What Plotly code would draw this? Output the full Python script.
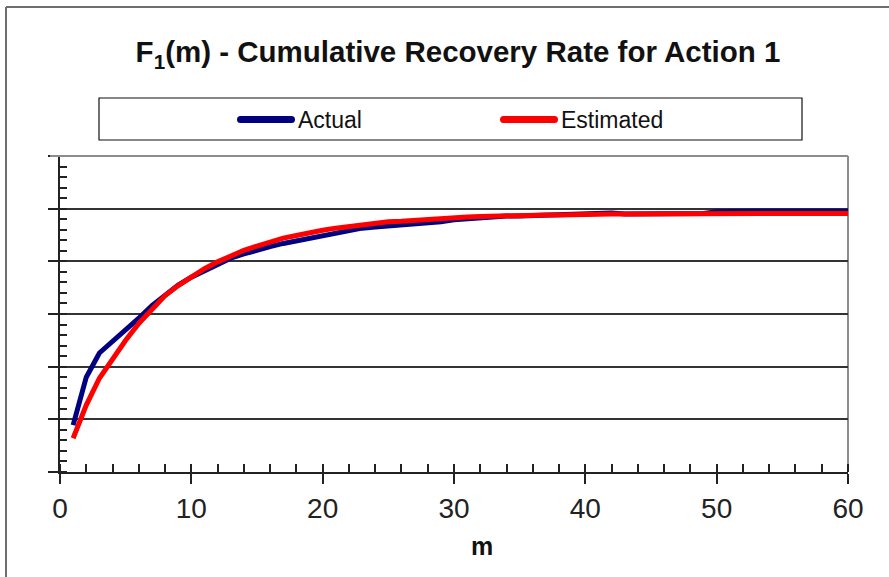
import plotly.graph_objects as go

m_values = list(range(1, 61))

actual = [
    0.089, 0.180, 0.226, 0.247, 0.269, 0.292, 0.316, 0.336, 0.355, 0.370,
    0.382, 0.395, 0.406, 0.414, 0.422, 0.428, 0.434, 0.439, 0.444, 0.448,
    0.452, 0.459, 0.463, 0.465, 0.467, 0.468, 0.469, 0.472, 0.475, 0.479,
    0.481, 0.482, 0.484, 0.486, 0.486, 0.487, 0.488, 0.488, 0.489, 0.490,
    0.492, 0.492, 0.490, 0.490, 0.490, 0.490, 0.490, 0.491, 0.491, 0.494,
    0.495, 0.495, 0.495, 0.495, 0.495, 0.495, 0.495, 0.495, 0.495, 0.495,
]

estimated = [
    0.064, 0.127, 0.178, 0.216, 0.250, 0.282, 0.310, 0.335, 0.354, 0.371,
    0.386, 0.399, 0.411, 0.421, 0.429, 0.437, 0.444, 0.449, 0.455, 0.459,
    0.463, 0.466, 0.470, 0.472, 0.475, 0.476, 0.478, 0.480, 0.481, 0.483,
    0.484, 0.485, 0.486, 0.486, 0.487, 0.487, 0.488, 0.488, 0.489, 0.489,
    0.489, 0.490, 0.490, 0.490, 0.490, 0.490, 0.491, 0.491, 0.491, 0.491,
    0.491, 0.491, 0.491, 0.491, 0.491, 0.491, 0.491, 0.491, 0.491, 0.491,
]

series_names = ["Actual", "Estimated"]
series_colors = ["#000080", "#FF0000"]
x_tick_values = [0, 10, 20, 30, 40, 50, 60]
title_text = "<b>F<sub>1</sub>(m) - Cumulative Recovery Rate for Action 1</b>"
x_title = "<b>m</b>"

FONT = "Liberation Sans, Arial, sans-serif"

fig = go.Figure()
for name, ys, col in zip(series_names, [actual, estimated], series_colors):
    fig.add_trace(go.Scatter(x=m_values, y=ys, mode="lines", name=name,
                             line=dict(color=col, width=5), showlegend=False,
                             cliponaxis=False))

# plot area: x 60..848 px, y 156..472 px
W, H = 788.0, 316.0
def px(x):
    return (x - 60) / W
def py(y):
    return (472 - y) / H

shapes = []
# outer frame (left and top)
shapes.append(dict(type="line", xref="paper", yref="paper", x0=px(6), x1=px(6),
                   y0=py(7), y1=py(600), line=dict(color="#6e6e6e", width=2)))
shapes.append(dict(type="line", xref="paper", yref="paper", x0=px(6), x1=px(900),
                   y0=py(7), y1=py(7), line=dict(color="#6e6e6e", width=2)))
# plot border top & right (gray)
shapes.append(dict(type="line", xref="paper", yref="paper", x0=px(50), x1=1,
                   y0=1, y1=1, line=dict(color="#8c8c8c", width=2), layer="above"))
shapes.append(dict(type="line", xref="paper", yref="paper", x0=1, x1=1,
                   y0=0, y1=1, line=dict(color="#8c8c8c", width=2), layer="below"))
# legend box
shapes.append(dict(type="rect", xref="paper", yref="paper", x0=px(99), x1=px(802),
                   y0=py(140), y1=py(98), line=dict(color="#111111", width=1.2),
                   fillcolor="white"))
annotations = []
leg_x = [237, 500]
for name, col, lx in zip(series_names, series_colors, leg_x):
    shapes.append(dict(type="line", xref="paper", yref="paper", x0=px(lx + 3), x1=px(lx + 55),
                       y0=py(119.5), y1=py(119.5), line=dict(color=col, width=7)))
    shapes.append(dict(type="circle", xref="paper", yref="paper",
                       x0=px(lx), x1=px(lx + 7), y0=py(123), y1=py(116),
                       line=dict(width=0), fillcolor=col))
    shapes.append(dict(type="circle", xref="paper", yref="paper",
                       x0=px(lx + 51), x1=px(lx + 58), y0=py(123), y1=py(116),
                       line=dict(width=0), fillcolor=col))
    annotations.append(dict(text=name, xref="paper", yref="paper", x=px(lx + 59), y=py(119.5),
                            xanchor="left", yanchor="middle", showarrow=False,
                            font=dict(family=FONT, size=23, color="#111111")))

annotations.append(dict(text=x_title, xref="paper", yref="paper", x=px(482), y=py(546),
                        xanchor="center", yanchor="middle", showarrow=False,
                        font=dict(family=FONT, size=25, color="#111111")))

fig.update_layout(
    width=889, height=577,
    margin=dict(l=60, r=41, t=156, b=105),
    paper_bgcolor="white", plot_bgcolor="white",
    title=dict(text=title_text, xref="paper", x=px(458), xanchor="center",
               yref="container", y=1 - 52 / 577.0, yanchor="middle",
               font=dict(family=FONT, size=29.5, color="#111111")),
    shapes=shapes, annotations=annotations,
    showlegend=False,
)

fig.update_xaxes(
    range=[0, 60], tickvals=x_tick_values, ticks="outside", ticklen=10, tickwidth=1.5,
    tickcolor="#222222", showline=True, linecolor="#222222", linewidth=2,
    showgrid=False, zeroline=False,
    tickfont=dict(family=FONT, size=28, color="#222222"),
    minor=dict(dtick=2, ticks="inside", ticklen=8, tickwidth=1.5, tickcolor="#222222", showgrid=False),
)
fig.update_yaxes(
    range=[0, 0.6], dtick=0.1, ticks="outside", ticklen=10, tickwidth=1.5,
    tickcolor="#222222", showline=True, linecolor="#222222", linewidth=2,
    showgrid=True, gridcolor="#333333", gridwidth=1.5, zeroline=False,
    showticklabels=False,
    minor=dict(dtick=0.02, ticks="inside", ticklen=7, tickwidth=1.5, tickcolor="#222222", showgrid=False),
)

fig.write_html("out.html")
